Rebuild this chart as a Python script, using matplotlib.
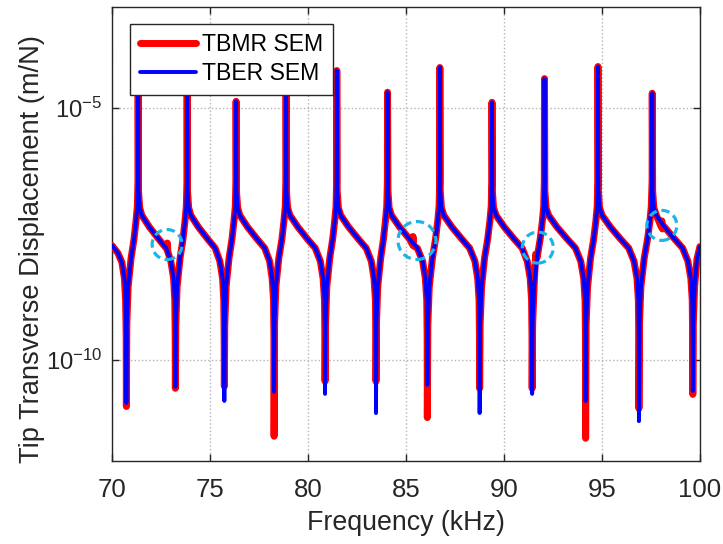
import matplotlib
matplotlib.use('Agg')
import matplotlib.pyplot as plt
from matplotlib.patches import Circle
from matplotlib.transforms import ScaledTranslation

plt.rcParams['font.family'] = ['Liberation Sans', 'DejaVu Sans']
plt.rcParams['mathtext.fontset'] = 'custom'
plt.rcParams['mathtext.rm'] = 'Liberation Sans'
plt.rcParams['mathtext.it'] = 'Liberation Sans:italic'

# ---------------- data ----------------
# frequency in kHz, displacement given as log10(m/N)
start_freq = [70.00, 70.30, 70.50, 70.63, 70.69, 70.72]
start_log = [-7.73, -7.88, -8.06, -8.38, -8.81, -9.50]

# shoulder points of each resonance cycle (rising flank, then falling flank)
cycle_freq = [
    [70.754, 70.82, 70.97, 71.12, 71.22, 71.29, 71.321, 71.349, 71.41, 71.52, 71.90, 72.38, 72.76, 73.00, 73.14, 73.20, 73.22],
    [73.254, 73.32, 73.47, 73.62, 73.72, 73.79, 73.821, 73.849, 73.91, 74.02, 74.40, 74.88, 75.26, 75.50, 75.64, 75.70, 75.72],
    [75.754, 75.82, 75.97, 76.12, 76.22, 76.29, 76.321, 76.349, 76.41, 76.52, 76.91, 77.40, 77.79, 78.04, 78.17, 78.24, 78.26],
    [78.294, 78.36, 78.51, 78.67, 78.77, 78.84, 78.871, 78.90, 78.96, 79.08, 79.48, 79.97, 80.37, 80.63, 80.77, 80.84, 80.86],
    [80.894, 80.96, 81.11, 81.26, 81.36, 81.43, 81.461, 81.49, 81.55, 81.67, 82.07, 82.57, 82.97, 83.23, 83.37, 83.44, 83.46],
    [83.494, 83.56, 83.71, 83.85, 83.95, 84.02, 84.051, 84.08, 84.14, 84.26, 84.67, 85.18, 85.58, 85.85, 85.99, 86.06, 86.08],
    [86.116, 86.19, 86.35, 86.51, 86.62, 86.69, 86.721, 86.75, 86.81, 86.93, 87.34, 87.85, 88.25, 88.52, 88.66, 88.73, 88.75],
    [88.785, 88.86, 89.01, 89.17, 89.28, 89.35, 89.381, 89.41, 89.47, 89.60, 90.01, 90.52, 90.93, 91.19, 91.34, 91.41, 91.43],
    [91.465, 91.54, 91.69, 91.85, 91.96, 92.03, 92.061, 92.09, 92.15, 92.28, 92.70, 93.23, 93.65, 93.92, 94.07, 94.14, 94.16],
    [94.195, 94.27, 94.42, 94.58, 94.69, 94.76, 94.791, 94.82, 94.88, 95.01, 95.43, 95.95, 96.37, 96.64, 96.79, 96.86, 96.88],
    [96.917, 96.99, 97.16, 97.33, 97.45, 97.52, 97.561, 97.59, 97.65, 97.78, 98.19, 98.71, 99.12, 99.39, 99.54, 99.61, 99.63],
]
cycle_log = [
    [-9.30, -8.55, -7.98, -7.60, -7.25, -6.95, -6.45, -6.64, -6.98, -7.13, -7.36, -7.60, -7.78, -8.04, -8.38, -8.81, -9.50],
    [-9.30, -8.55, -7.98, -7.60, -7.25, -6.95, -6.45, -6.64, -6.98, -7.13, -7.36, -7.60, -7.78, -8.04, -8.38, -8.81, -9.50],
    [-9.30, -8.55, -7.98, -7.60, -7.25, -6.95, -6.45, -6.64, -6.98, -7.13, -7.36, -7.60, -7.78, -8.04, -8.38, -8.81, -9.50],
    [-9.30, -8.55, -7.98, -7.60, -7.25, -6.95, -6.45, -6.64, -6.98, -7.13, -7.36, -7.60, -7.78, -8.04, -8.38, -8.81, -9.50],
    [-9.30, -8.55, -7.98, -7.60, -7.25, -6.95, -6.45, -6.64, -6.98, -7.13, -7.36, -7.60, -7.78, -8.04, -8.38, -8.81, -9.50],
    [-9.30, -8.55, -7.98, -7.60, -7.25, -6.95, -6.45, -6.64, -6.98, -7.13, -7.36, -7.60, -7.78, -8.04, -8.38, -8.81, -9.50],
    [-9.30, -8.55, -7.98, -7.60, -7.25, -6.95, -6.45, -6.64, -6.98, -7.13, -7.36, -7.60, -7.78, -8.04, -8.38, -8.81, -9.50],
    [-9.30, -8.55, -7.98, -7.60, -7.25, -6.95, -6.45, -6.64, -6.98, -7.13, -7.36, -7.60, -7.78, -8.04, -8.38, -8.81, -9.50],
    [-9.30, -8.55, -7.98, -7.60, -7.25, -6.95, -6.45, -6.64, -6.98, -7.13, -7.36, -7.60, -7.78, -8.04, -8.38, -8.81, -9.50],
    [-9.30, -8.55, -7.98, -7.60, -7.25, -6.95, -6.45, -6.64, -6.98, -7.13, -7.36, -7.60, -7.78, -8.04, -8.38, -8.81, -9.50],
    [-9.30, -8.55, -7.98, -7.60, -7.25, -6.95, -6.45, -6.64, -6.98, -7.13, -7.36, -7.60, -7.78, -8.04, -8.38, -8.81, -9.50],
]
end_freq = [99.665, 99.73, 99.85, 100.00]
end_log = [-9.30, -8.55, -8.00, -7.75]

# resonance peaks (shared by both models)
peak_freq = [71.33, 73.83, 76.33, 78.88, 81.47, 84.06, 86.73, 89.39, 92.07, 94.80, 97.57]
peak_log = [-3.90, -4.00, -4.87, -4.00, -4.26, -4.69, -4.20, -4.89, -4.42, -4.18, -4.71]

# anti-resonance dips
dip_freq = [70.73, 73.23, 75.73, 78.27, 80.87, 83.47, 86.09, 88.76, 91.44, 94.17, 96.89, 99.64]
tbmr_dip_log = [-10.92, -10.56, -10.52, -11.51, -10.42, -10.42, -11.14, -10.56, -10.56, -11.55, -10.96, -10.68]
tber_dip_log = [-10.85, -10.53, -10.81, -10.63, -10.67, -11.05, -10.49, -11.05, -10.67, -10.81, -11.21, -10.61]

# small extra features of the TBMR curve (inside the dashed circles)
tbmr_extra_freq = [72.79, 72.82, 72.85, 85.33, 85.36, 85.39, 91.62, 98.03, 98.06, 98.09]
tbmr_extra_log = [-7.80, -7.68, -7.86, -7.71, -7.55, -7.74, -7.90, -7.36, -7.24, -7.40]

# highlighted regions (dashed circles): centre frequency, centre log10 value, radius in px
circle_freq = [72.81, 85.56, 91.73, 98.06]
circle_log = [-7.71, -7.63, -7.77, -7.33]
circle_radius_px = [15, 19, 15.5, 15]

# ---------------- assemble series ----------------
base_f, base_l = list(start_freq), list(start_log)
for cf, cl in zip(cycle_freq, cycle_log):
    base_f += cf
    base_l += cl
base_f += end_freq + peak_freq
base_l += end_log + peak_log


def build(extra_f, extra_l):
    pts = sorted(zip(base_f + extra_f, base_l + extra_l))
    return [p[0] for p in pts], [10.0 ** p[1] for p in pts]


tbmr_f, tbmr_v = build(dip_freq + tbmr_extra_freq, tbmr_dip_log + tbmr_extra_log)
tber_f, tber_v = build(dip_freq, tber_dip_log)

# ---------------- plot ----------------
fig = plt.figure(figsize=(7.23, 5.44), dpi=100)
ax = fig.add_axes([0.155, 0.1526, 0.813, 0.8346])

ax.plot(tbmr_f, tbmr_v, color='#ff0000', lw=5.0, solid_capstyle='round',
        solid_joinstyle='round', label='TBMR SEM', zorder=3)
ax.plot(tber_f, tber_v, color='#0000ff', lw=2.8, solid_capstyle='round',
        solid_joinstyle='round', label='TBER SEM', zorder=4)

ax.set_yscale('log')
ax.set_xlim(70, 100)
ax.set_ylim(1e-12, 1e-3)
ax.set_xticks([70, 75, 80, 85, 90, 95, 100])
ax.set_yticks([1e-10, 1e-5])
ax.set_yticklabels([r'$10^{-10}$', r'$10^{-5}$'])
ax.minorticks_off()

ax.grid(True, which='major', linestyle=':', color='#b5b5b5', lw=1.0, zorder=0)
ax.tick_params(direction='in', top=True, right=True, length=5, width=1.0,
               colors='#262626')
ax.tick_params(axis='x', pad=12, labelsize=18.5)
ax.tick_params(axis='y', pad=7, labelsize=17.2)
for tl in ax.get_xticklabels() + ax.get_yticklabels():
    tl.set_color('#262626')
for sp in ax.spines.values():
    sp.set_linewidth(1.0)
    sp.set_color('#262626')

ax.set_xlabel('Frequency (kHz)', fontsize=19.3, color='#262626')
ax.set_ylabel('Tip Transverse Displacement (m/N)', fontsize=19.6, color='#262626')
ax.xaxis.set_label_coords(0.5, -0.108)
ax.yaxis.set_label_coords(-0.114, 0.467)

for f, lg, r in zip(circle_freq, circle_log, circle_radius_px):
    trans = fig.dpi_scale_trans + ScaledTranslation(f, 10.0 ** lg, ax.transData)
    c = Circle((0, 0), r / 100.0, transform=trans, fill=False,
               edgecolor='#1db4e8', lw=2.3, linestyle=(0, (2.6, 1.5)), zorder=6)
    ax.add_patch(c)

leg = ax.legend(loc='upper left', bbox_to_anchor=(0.031, 0.963), fontsize=16.6,
                frameon=True, fancybox=False, edgecolor='#262626', framealpha=1,
                handlelength=2.45, labelspacing=0.25, borderpad=0.42,
                handletextpad=0.25, borderaxespad=0)
leg.get_frame().set_linewidth(1.0)
leg.set_zorder(10)

fig.savefig('out.png', dpi=100)
